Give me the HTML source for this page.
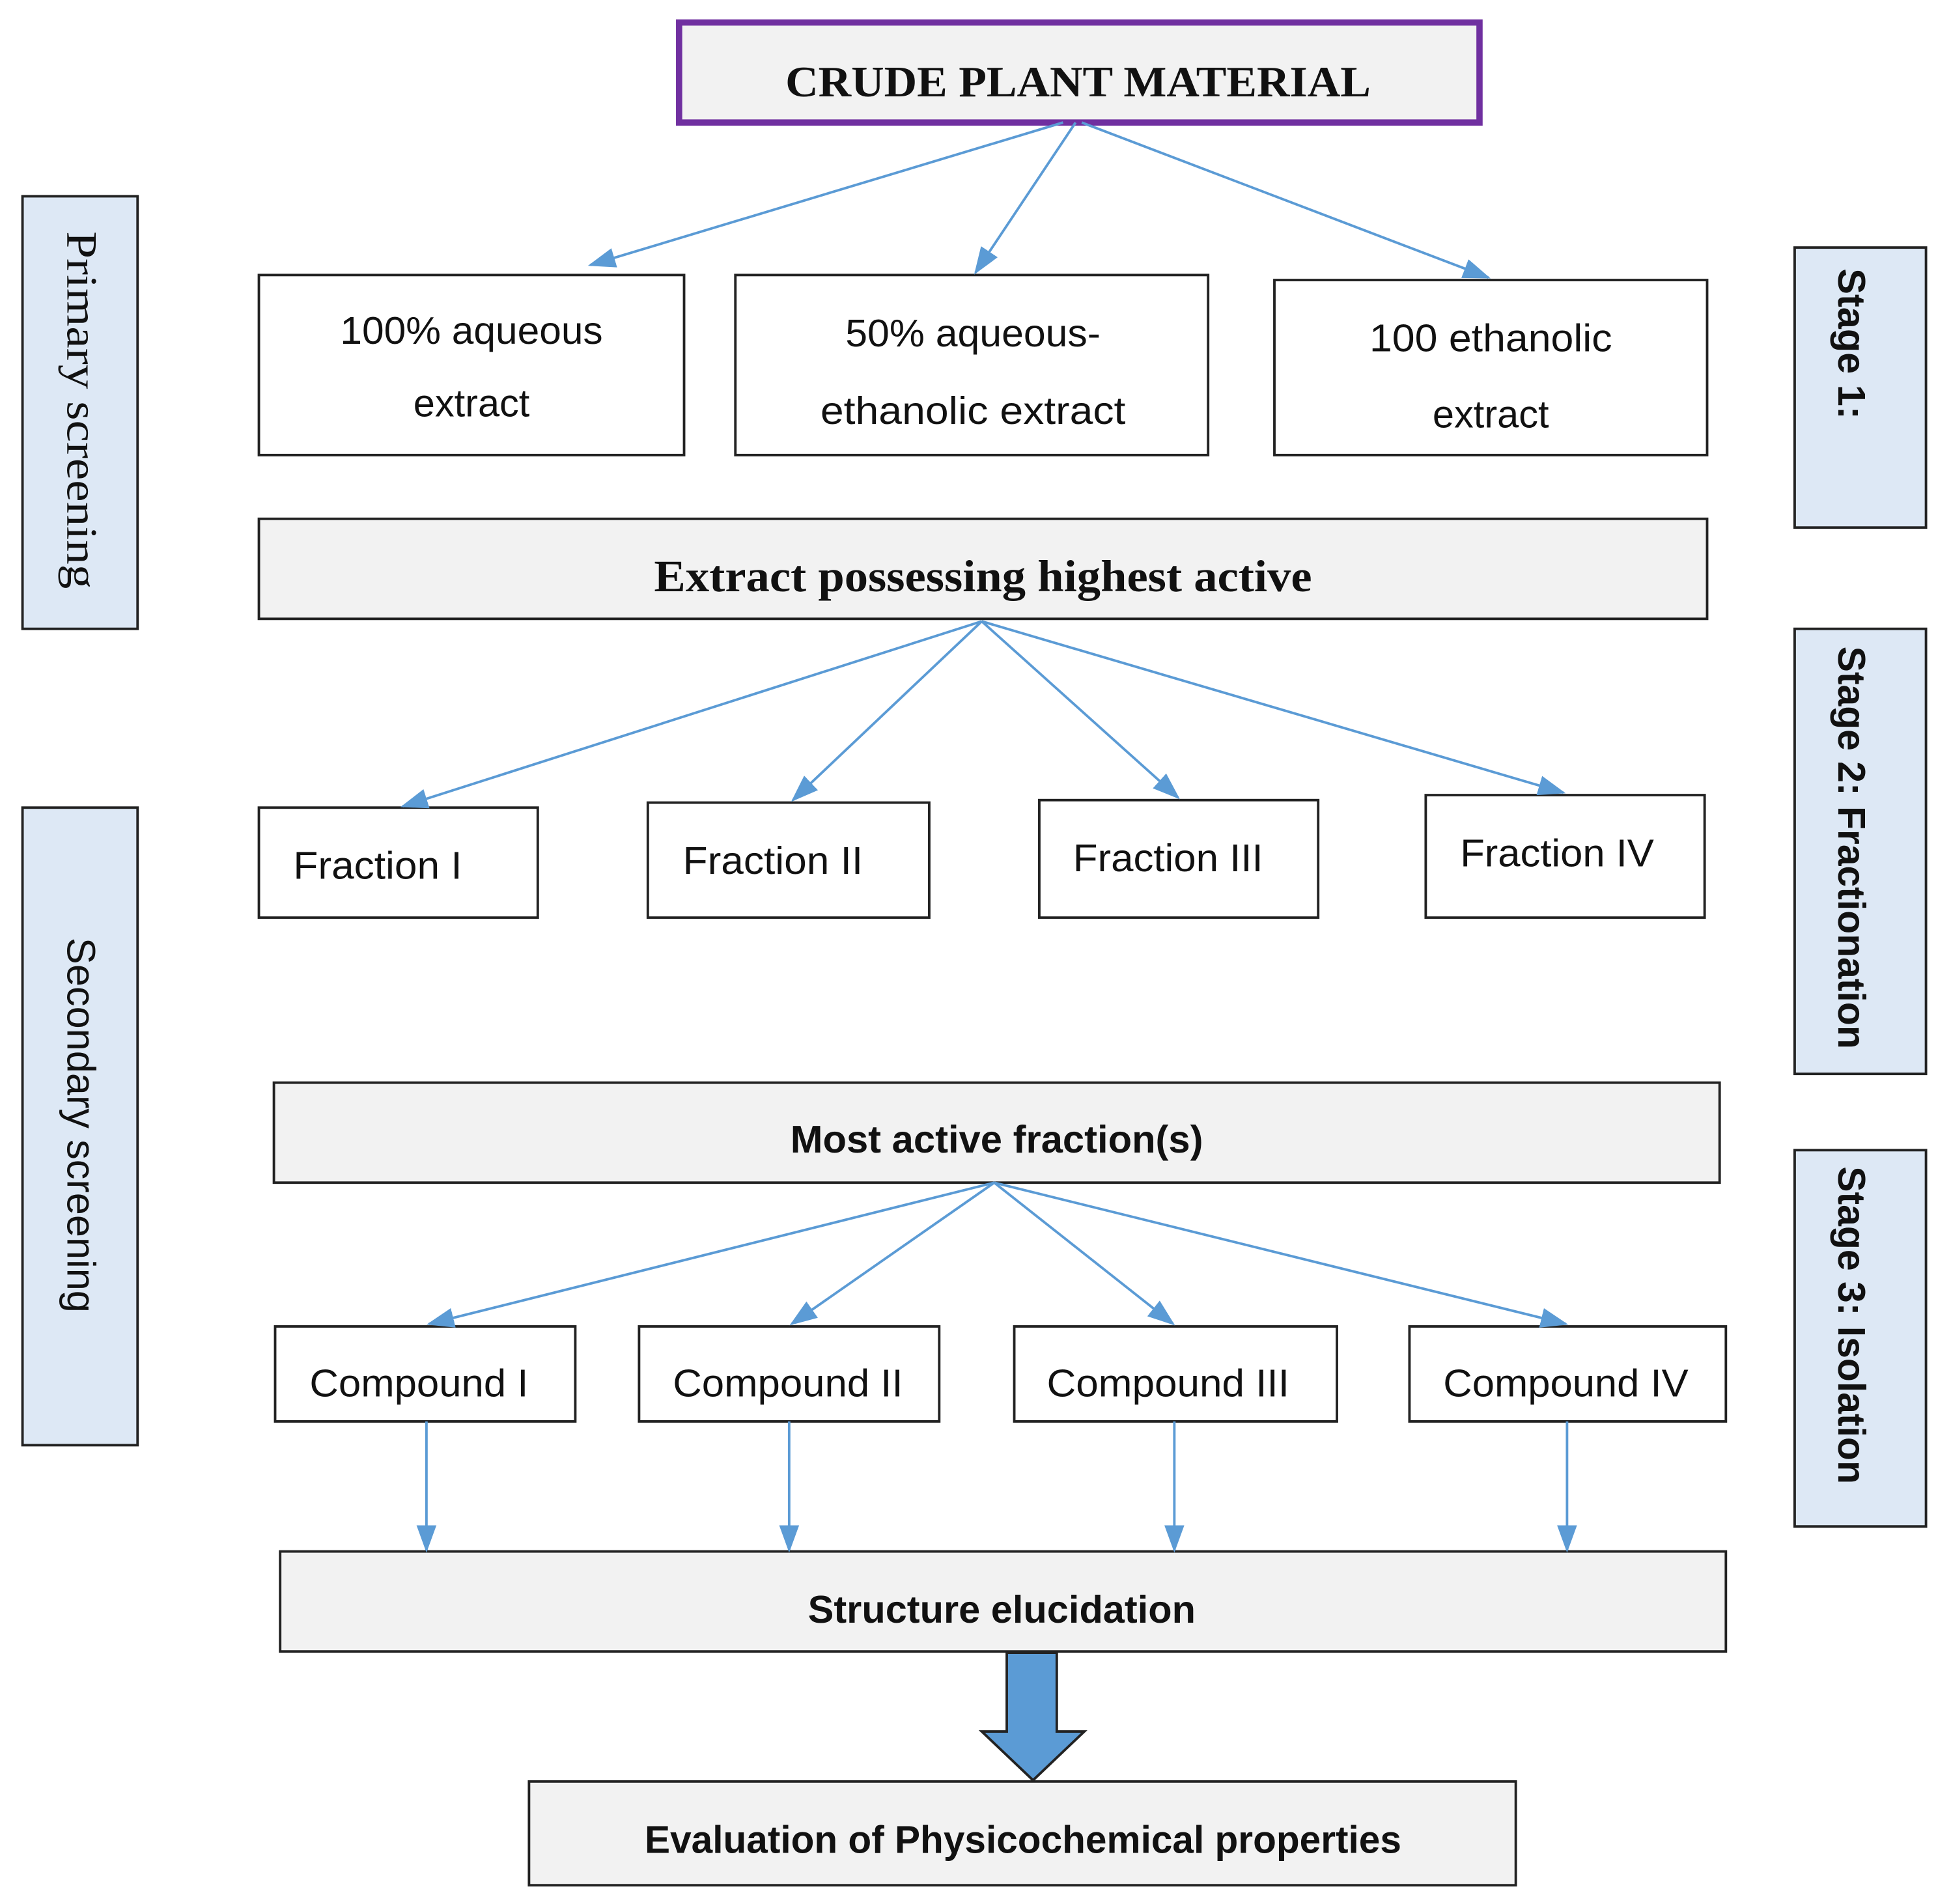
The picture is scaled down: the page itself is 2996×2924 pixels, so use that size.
<!DOCTYPE html>
<html><head><meta charset="utf-8"><style>html,body{margin:0;padding:0;background:#fff}svg{display:block}</style></head>
<body>
<svg width="2996" height="2924" viewBox="0 0 1560 1523" preserveAspectRatio="none" xmlns="http://www.w3.org/2000/svg">
<defs>
<marker id="b" markerWidth="22" markerHeight="16" refX="20" refY="8" orient="auto" markerUnits="userSpaceOnUse" viewBox="0 0 22 16"><path d="M0,0 L22,8 L0,16 z" fill="#5b9bd5"/></marker>
</defs>
<g stroke="#222" stroke-width="2">
<rect x="18" y="157" width="92" height="346" fill="#dde8f5"/>
<rect x="18" y="646" width="92" height="510" fill="#dde8f5"/>
<rect x="1435" y="198" width="105" height="224" fill="#dde8f5"/>
<rect x="1435" y="503" width="105" height="356" fill="#dde8f5"/>
<rect x="1435" y="920" width="105" height="301" fill="#dde8f5"/>
<rect x="207" y="220" width="340" height="144" fill="#fff"/>
<rect x="588" y="220" width="378" height="144" fill="#fff"/>
<rect x="1019" y="224" width="346" height="140" fill="#fff"/>
<rect x="207" y="415" width="1158" height="80" fill="#f2f2f2"/>
<rect x="207" y="646" width="223" height="88" fill="#fff"/>
<rect x="518" y="642" width="225" height="92" fill="#fff"/>
<rect x="831" y="640" width="223" height="94" fill="#fff"/>
<rect x="1140" y="636" width="223" height="98" fill="#fff"/>
<rect x="219" y="866" width="1156" height="80" fill="#f2f2f2"/>
<rect x="220" y="1061" width="240" height="76" fill="#fff"/>
<rect x="511" y="1061" width="240" height="76" fill="#fff"/>
<rect x="811" y="1061" width="258" height="76" fill="#fff"/>
<rect x="1127" y="1061" width="253" height="76" fill="#fff"/>
<rect x="224" y="1241" width="1156" height="80" fill="#f2f2f2"/>
<rect x="423" y="1425" width="789" height="83" fill="#f2f2f2"/>
</g>
<rect x="543" y="18" width="640" height="80" fill="#f2f2f2" stroke="#7030a0" stroke-width="5"/>
<g stroke="#5b9bd5" stroke-width="2" fill="none">
<line x1="850" y1="98" x2="472" y2="212" marker-end="url(#b)"/>
<line x1="860" y1="98" x2="780" y2="218" marker-end="url(#b)"/>
<line x1="865" y1="98" x2="1190" y2="222" marker-end="url(#b)"/>
<line x1="785" y1="497" x2="322" y2="645" marker-end="url(#b)"/>
<line x1="785" y1="497" x2="634" y2="640" marker-end="url(#b)"/>
<line x1="785" y1="497" x2="942" y2="638" marker-end="url(#b)"/>
<line x1="785" y1="497" x2="1250" y2="634" marker-end="url(#b)"/>
<line x1="795" y1="946" x2="343" y2="1059" marker-end="url(#b)"/>
<line x1="795" y1="946" x2="633" y2="1059" marker-end="url(#b)"/>
<line x1="795" y1="946" x2="938" y2="1059" marker-end="url(#b)"/>
<line x1="795" y1="946" x2="1252" y2="1059" marker-end="url(#b)"/>
<line x1="341" y1="1137" x2="341" y2="1240" marker-end="url(#b)"/>
<line x1="631" y1="1137" x2="631" y2="1240" marker-end="url(#b)"/>
<line x1="939" y1="1137" x2="939" y2="1240" marker-end="url(#b)"/>
<line x1="1253" y1="1137" x2="1253" y2="1240" marker-end="url(#b)"/>
</g>
<path d="M805,1322 L845,1322 L845,1385 L867,1385 L826,1424 L785,1385 L805,1385 Z" fill="#5b9bd5" stroke="#222" stroke-width="2"/>
<g font-family="Liberation Serif, serif" fill="#111" text-anchor="middle">
<text x="862" y="77" font-size="35" font-weight="bold" textLength="468" lengthAdjust="spacingAndGlyphs">CRUDE PLANT MATERIAL</text>
<text x="786" y="473" font-size="36" font-weight="bold" textLength="526" lengthAdjust="spacingAndGlyphs">Extract possessing highest active</text>
<text transform="translate(54,328) rotate(90)" font-size="35" textLength="286" lengthAdjust="spacingAndGlyphs">Primary screening</text>
</g>
<g font-family="Liberation Sans, sans-serif" fill="#111" text-anchor="middle">
<g font-size="31">
<text x="377" y="275" textLength="210" lengthAdjust="spacingAndGlyphs">100% aqueous</text>
<text x="377" y="333">extract</text>
<text x="778" y="277" textLength="204" lengthAdjust="spacingAndGlyphs">50% aqueous-</text>
<text x="778" y="339" textLength="244" lengthAdjust="spacingAndGlyphs">ethanolic extract</text>
<text x="1192" y="281" textLength="194" lengthAdjust="spacingAndGlyphs">100 ethanolic</text>
<text x="1192" y="342">extract</text>
<text x="302" y="703" textLength="135" lengthAdjust="spacingAndGlyphs">Fraction I</text>
<text x="618" y="699" textLength="144" lengthAdjust="spacingAndGlyphs">Fraction II</text>
<text x="934" y="697" textLength="152" lengthAdjust="spacingAndGlyphs">Fraction III</text>
<text x="1245" y="693" textLength="155" lengthAdjust="spacingAndGlyphs">Fraction IV</text>
<text x="335" y="1117" textLength="175" lengthAdjust="spacingAndGlyphs">Compound I</text>
<text x="630" y="1117" textLength="184" lengthAdjust="spacingAndGlyphs">Compound II</text>
<text x="934" y="1117" textLength="194" lengthAdjust="spacingAndGlyphs">Compound III</text>
<text x="1252" y="1117" textLength="196" lengthAdjust="spacingAndGlyphs">Compound IV</text>
</g>
<g font-size="31" font-weight="bold">
<text x="797" y="922" textLength="330" lengthAdjust="spacingAndGlyphs">Most active fraction(s)</text>
<text x="801" y="1298" textLength="310" lengthAdjust="spacingAndGlyphs">Structure elucidation</text>
<text x="818" y="1482" textLength="605" lengthAdjust="spacingAndGlyphs">Evaluation of Physicochemical properties</text>
</g>
<text transform="translate(54,900) rotate(90)" font-size="32" textLength="300" lengthAdjust="spacingAndGlyphs">Secondary screening</text>
<g font-size="31" font-weight="bold">
<text transform="translate(1470,275) rotate(90)">Stage 1:</text>
<text transform="translate(1470,678) rotate(90)" textLength="322" lengthAdjust="spacingAndGlyphs">Stage 2: Fractionation</text>
<text transform="translate(1470,1060) rotate(90)" textLength="254" lengthAdjust="spacingAndGlyphs">Stage 3: Isolation</text>
</g>
</g>
</svg>
</body></html>
